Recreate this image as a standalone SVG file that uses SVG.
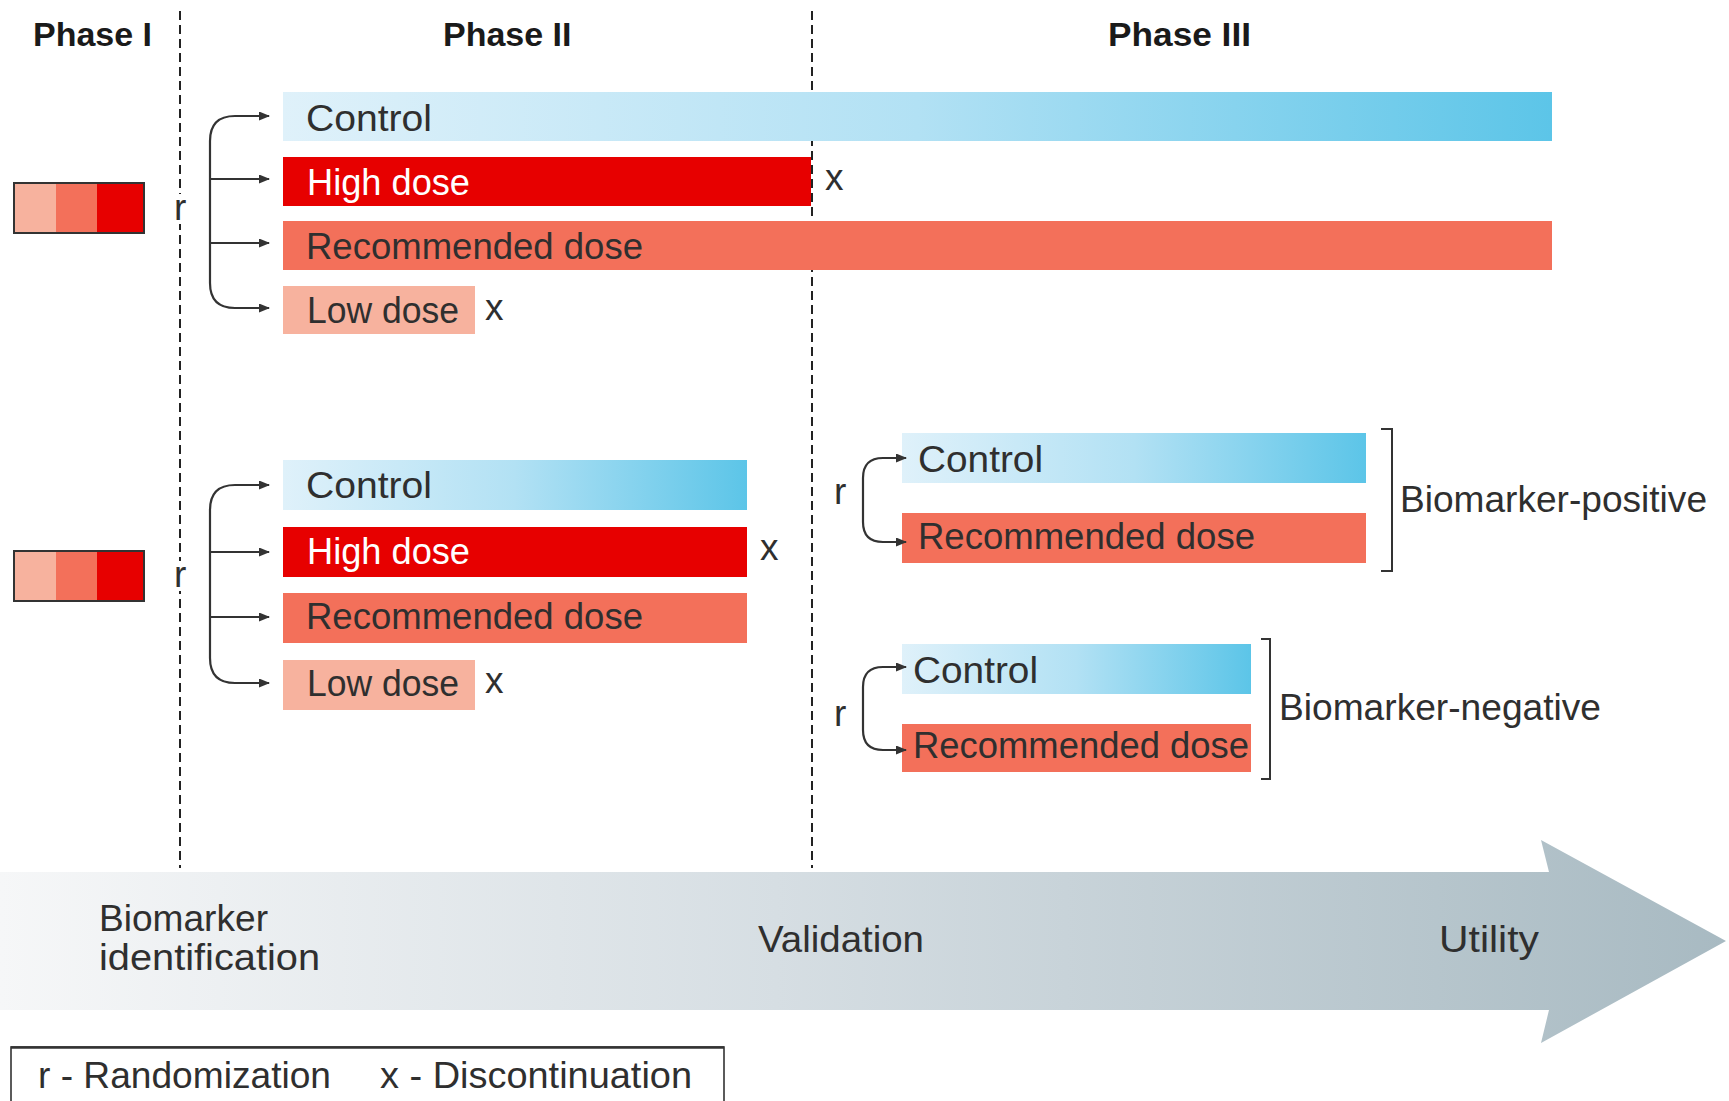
<svg xmlns="http://www.w3.org/2000/svg" width="1729" height="1101" viewBox="0 0 1729 1101">
<style>
text{font-family:"Liberation Sans",Arial,sans-serif;fill:#2f2f2f;}
.h{font-size:34px;font-weight:bold;fill:#1a1a1a;}
.t{font-size:37px;}
.w{fill:#ffffff;}
.dash{stroke:#222;stroke-width:2;stroke-dasharray:9 5;fill:none;}
.con{stroke:#333;stroke-width:2.2;fill:none;}
.brk{stroke:#333;stroke-width:2;fill:none;}
.hi{fill:#E70000;}
.rec{fill:#F3705A;}
.lo{fill:#F7B29E;}
.ctl{fill:url(#gCtl);}
</style>
<defs>
<linearGradient id="gCtl" x1="0" y1="0" x2="1" y2="0">
<stop offset="0" stop-color="#DFF1FA"/>
<stop offset="0.5" stop-color="#B2E1F4"/>
<stop offset="1" stop-color="#5CC5E8"/>
</linearGradient>
<linearGradient id="gArrow" gradientUnits="userSpaceOnUse" x1="0" y1="0" x2="1726" y2="0">
<stop offset="0" stop-color="#F6F7F8"/>
<stop offset="0.45" stop-color="#D6DEE3"/>
<stop offset="1" stop-color="#A8BAC2"/>
</linearGradient>
<marker id="ah" markerUnits="userSpaceOnUse" markerWidth="11" markerHeight="9" refX="10" refY="4.5" orient="auto">
<path d="M0,0 L11,4.5 L0,9 z" fill="#333"/>
</marker>
</defs>

<g id="dividers">
<line class="dash" x1="180" y1="11" x2="180" y2="868"/>
<line class="dash" x1="812" y1="11" x2="812" y2="868"/>
</g>

<g id="headers">
<text class="h" x="33" y="46">Phase I</text>
<text class="h" x="443" y="46">Phase II</text>
<text class="h" x="1108" y="46" textLength="143" lengthAdjust="spacingAndGlyphs">Phase III</text>
</g>

<g id="phase1-box-top">
<rect x="14" y="183" width="42" height="50" fill="#F7B29E"/>
<rect x="56" y="183" width="41" height="50" fill="#F3705A"/>
<rect x="97" y="183" width="47" height="50" fill="#E70000"/>
<rect x="14" y="183" width="130" height="50" fill="none" stroke="#333" stroke-width="2"/>
</g>
<g id="phase1-box-bottom">
<rect x="14" y="551" width="42" height="50" fill="#F7B29E"/>
<rect x="56" y="551" width="41" height="50" fill="#F3705A"/>
<rect x="97" y="551" width="47" height="50" fill="#E70000"/>
<rect x="14" y="551" width="130" height="50" fill="none" stroke="#333" stroke-width="2"/>
</g>

<g id="r-top">
<rect x="171" y="194" width="18" height="30" fill="#fff"/>
<text class="t" x="174" y="220">r</text>
</g>
<g id="r-bottom">
<rect x="171" y="561" width="18" height="30" fill="#fff"/>
<text class="t" x="174" y="587">r</text>
</g>

<g id="top-control"><rect class="ctl" x="283" y="92" width="1269" height="49"/><text class="t" x="306" y="131" textLength="126" lengthAdjust="spacingAndGlyphs">Control</text></g>
<g id="top-high"><rect class="hi" x="283" y="157" width="528" height="49"/><text class="t w" x="307" y="195" textLength="163" lengthAdjust="spacingAndGlyphs">High dose</text></g>
<g id="top-rec"><rect class="rec" x="283" y="221" width="1269" height="49"/><text class="t" x="306" y="259" textLength="337" lengthAdjust="spacingAndGlyphs">Recommended dose</text></g>
<g id="top-low"><rect class="lo" x="283" y="286" width="192" height="48"/><text class="t" x="307" y="323" textLength="152" lengthAdjust="spacingAndGlyphs">Low dose</text></g>
<g id="top-x-high"><text class="t" x="825" y="190">x</text></g>
<g id="top-x-low"><text class="t" x="485" y="320">x</text></g>

<g id="mid-control"><rect class="ctl" x="283" y="460" width="464" height="50"/><text class="t" x="306" y="498" textLength="126" lengthAdjust="spacingAndGlyphs">Control</text></g>
<g id="mid-high"><rect class="hi" x="283" y="527" width="464" height="50"/><text class="t w" x="307" y="564" textLength="163" lengthAdjust="spacingAndGlyphs">High dose</text></g>
<g id="mid-rec"><rect class="rec" x="283" y="593" width="464" height="50"/><text class="t" x="306" y="629" textLength="337" lengthAdjust="spacingAndGlyphs">Recommended dose</text></g>
<g id="mid-low"><rect class="lo" x="283" y="660" width="192" height="50"/><text class="t" x="307" y="696" textLength="152" lengthAdjust="spacingAndGlyphs">Low dose</text></g>
<g id="mid-x-high"><text class="t" x="760" y="560">x</text></g>
<g id="mid-x-low"><text class="t" x="485" y="693">x</text></g>

<g id="pos-control"><rect class="ctl" x="902" y="433" width="464" height="50"/><text class="t" x="918" y="472" textLength="125" lengthAdjust="spacingAndGlyphs">Control</text></g>
<g id="pos-rec"><rect class="rec" x="902" y="513" width="464" height="50"/><text class="t" x="918" y="549" textLength="337" lengthAdjust="spacingAndGlyphs">Recommended dose</text></g>
<g id="pos-label">
<path class="brk" d="M1381 429 H1392 V571 H1381"/>
<text class="t" x="1400" y="512" textLength="307" lengthAdjust="spacingAndGlyphs">Biomarker-positive</text>
</g>
<g id="r-pos"><text class="t" x="834" y="504">r</text></g>

<g id="neg-control"><rect class="ctl" x="902" y="644" width="349" height="50"/><text class="t" x="913" y="683" textLength="125" lengthAdjust="spacingAndGlyphs">Control</text></g>
<g id="neg-rec"><rect class="rec" x="902" y="724" width="349" height="48"/><text class="t" x="913" y="758" textLength="336" lengthAdjust="spacingAndGlyphs">Recommended dose</text></g>
<g id="neg-label">
<path class="brk" d="M1261 639 H1270 V779 H1261"/>
<text class="t" x="1279" y="720" textLength="322" lengthAdjust="spacingAndGlyphs">Biomarker-negative</text>
</g>
<g id="r-neg"><text class="t" x="834" y="726">r</text></g>

<g id="connectors">
<path class="con" marker-end="url(#ah)" d="M210 212 V141 Q210 116 235 116 H269"/>
<path class="con" marker-end="url(#ah)" d="M210 179 H269"/>
<path class="con" marker-end="url(#ah)" d="M210 243 H269"/>
<path class="con" marker-end="url(#ah)" d="M210 212 V283 Q210 308 235 308 H269"/>

<path class="con" marker-end="url(#ah)" d="M210 585 V510 Q210 485 235 485 H269"/>
<path class="con" marker-end="url(#ah)" d="M210 552 H269"/>
<path class="con" marker-end="url(#ah)" d="M210 617 H269"/>
<path class="con" marker-end="url(#ah)" d="M210 585 V658 Q210 683 235 683 H269"/>

<path class="con" marker-end="url(#ah)" d="M863 500 V478 Q863 458 883 458 H906"/>
<path class="con" marker-end="url(#ah)" d="M863 500 V522 Q863 542 883 542 H906"/>
<path class="con" marker-end="url(#ah)" d="M863 708 V687 Q863 667 883 667 H906"/>
<path class="con" marker-end="url(#ah)" d="M863 708 V730 Q863 750 883 750 H906"/>
</g>

<g id="pipeline-arrow">
<path d="M0 872 H1549 L1541 840 L1726 941 L1541 1043 L1549 1010 H0 Z" fill="url(#gArrow)"/>
<text class="t" x="99" y="931" textLength="169" lengthAdjust="spacingAndGlyphs">Biomarker</text>
<text class="t" x="99" y="970" textLength="221" lengthAdjust="spacingAndGlyphs">identification</text>
<text class="t" x="758" y="952" textLength="166" lengthAdjust="spacingAndGlyphs">Validation</text>
<text class="t" x="1439" y="952" textLength="100" lengthAdjust="spacingAndGlyphs">Utility</text>
</g>

<g id="legend">
<rect x="11" y="1047" width="713" height="80" fill="none" stroke="#333" stroke-width="1.6"/>
<line x1="11" y1="1047.5" x2="724" y2="1047.5" stroke="#333" stroke-width="2.6"/>
<text class="t" x="38" y="1088" textLength="293" lengthAdjust="spacingAndGlyphs">r - Randomization</text>
<text class="t" x="380" y="1088" textLength="312" lengthAdjust="spacingAndGlyphs">x - Discontinuation</text>
</g>
</svg>
